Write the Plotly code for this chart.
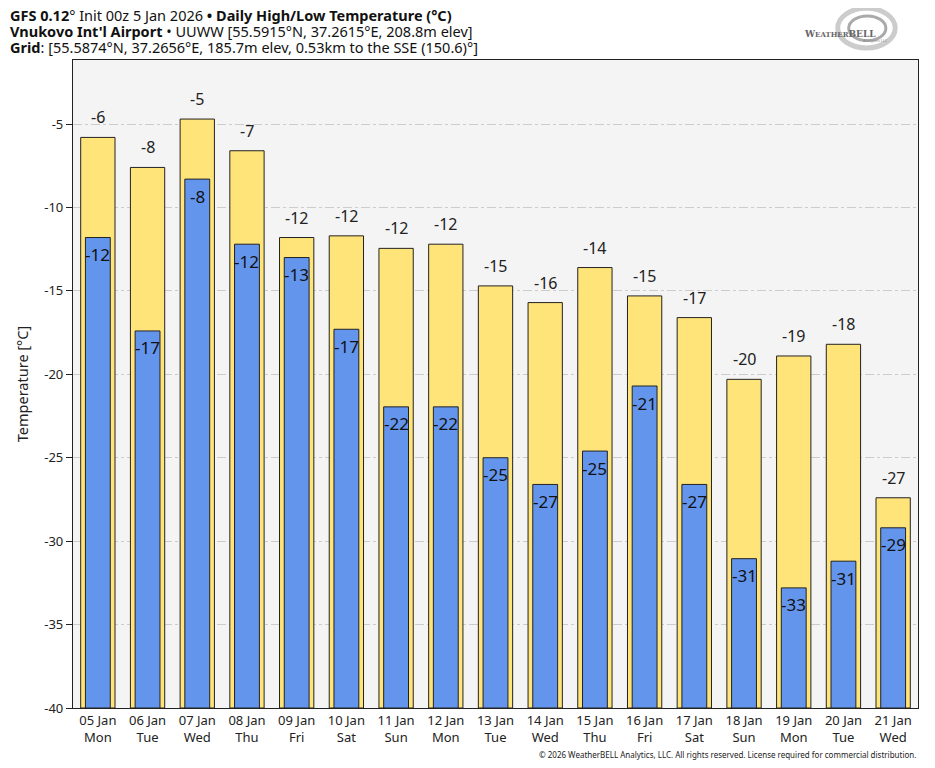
import plotly.graph_objects as go

dates = ["05 Jan", "06 Jan", "07 Jan", "08 Jan", "09 Jan", "10 Jan", "11 Jan", "12 Jan", "13 Jan",
         "14 Jan", "15 Jan", "16 Jan", "17 Jan", "18 Jan", "19 Jan", "20 Jan", "21 Jan"]
weekdays = ["Mon", "Tue", "Wed", "Thu", "Fri", "Sat", "Sun", "Mon", "Tue",
            "Wed", "Thu", "Fri", "Sat", "Sun", "Mon", "Tue", "Wed"]
highs = [-5.8, -7.6, -4.7, -6.6, -11.8, -11.7, -12.45, -12.2, -14.7,
         -15.7, -13.6, -15.3, -16.6, -20.3, -18.9, -18.2, -27.4]
lows = [-11.8, -17.4, -8.3, -12.2, -13.0, -17.3, -21.95, -21.95, -25.0,
        -26.6, -24.6, -20.7, -26.6, -31.05, -32.8, -31.2, -29.2]
high_labels = [-6, -8, -5, -7, -12, -12, -12, -12, -15, -16, -14, -15, -17, -20, -19, -18, -27]
low_labels = [-12, -17, -8, -12, -13, -17, -22, -22, -25, -27, -25, -21, -27, -31, -33, -31, -29]
y_ticks = [-5, -10, -15, -20, -25, -30, -35, -40]

BASE = -40
FONT = "Noto Sans"
cats = [f"{d}<br>{w}" for d, w in zip(dates, weekdays)]

fig = go.Figure()
fig.add_trace(go.Bar(
    x=cats, y=[h - BASE for h in highs], base=BASE, width=0.69,
    marker=dict(color="#FFE47A", line=dict(color="#222222", width=1)),
    hoverinfo="skip", showlegend=False))
fig.add_trace(go.Bar(
    x=cats, y=[l - BASE for l in lows], base=BASE, width=0.5,
    marker=dict(color="#6495ED", line=dict(color="#222222", width=1)),
    hoverinfo="skip", showlegend=False))

for c, h, hl in zip(cats, highs, high_labels):
    fig.add_annotation(x=c, y=h, text=str(hl), showarrow=False, yshift=20,
                       font=dict(family=FONT, size=16, color="#222"))
for c, l, ll in zip(cats, lows, low_labels):
    fig.add_annotation(x=c, y=l, text=str(ll), showarrow=False, yshift=-17,
                       font=dict(family=FONT, size=17, color="#111"))

title_lines = [
    "<b>GFS 0.12</b>° Init 00z 5 Jan 2026 <b>•</b> <b>Daily High/Low Temperature (°C)</b>",
    "<b>Vnukovo Int'l Airport</b> • UUWW [55.5915°N, 37.2615°E, 208.8m elev]",
    "<b>Grid</b>: [55.5874°N, 37.2656°E, 185.7m elev, 0.53km to the SSE (150.6)°]",
]
for txt, yy in zip(title_lines, [1.0694, 1.0448, 1.0201]):
    fig.add_annotation(xref="paper", yref="paper", x=-0.0769, y=yy, yanchor="middle",
                       xanchor="left", align="left", text=txt, showarrow=False,
                       font=dict(family=FONT, size=14.5, color="#111"))

fig.add_annotation(xref="paper", yref="paper", x=1.0, y=-0.0725, xanchor="right", yanchor="middle",
                   text="© 2026 WeatherBELL Analytics, LLC. All rights reserved. License required for commercial distribution.",
                   showarrow=False, font=dict(family=FONT, size=8, color="#222"))

# logo approximation
fig.add_shape(type="circle", xref="paper", yref="paper", x0=0.905, x1=0.973, y0=1.0185, y1=1.080,
              line=dict(color="#cccccc", width=5))
fig.add_shape(type="circle", xref="paper", yref="paper", x0=0.918, x1=0.962, y0=1.030, y1=1.068,
              line=dict(color="#aaaaaa", width=3))
fig.add_annotation(xref="paper", yref="paper", x=0.953, y=1.051,
                   text="<b>W<span style='font-size:7px'>EATHER</span>BELL</b>",
                   showarrow=False, font=dict(family="DejaVu Serif", size=9, color="#666"))
fig.add_annotation(xref="paper", yref="paper", x=0.967, y=1.037, text="Analytics LLC",
                   showarrow=False, font=dict(family=FONT, size=4, color="#888"))

fig.update_layout(
    width=927, height=760,
    margin=dict(l=65, r=17, t=52, b=60),
    barmode="overlay",
    paper_bgcolor="white", plot_bgcolor="#F4F4F4",
    font=dict(family=FONT, size=13, color="#222"),
    xaxis=dict(showgrid=False, showline=True, linecolor="#222", linewidth=1.2, mirror=True,
               ticks="", tickfont=dict(size=13), fixedrange=True),
    yaxis=dict(range=[-40, -1.16], tickvals=y_ticks, ticktext=[str(t) for t in y_ticks],
               showgrid=True, gridcolor="#CCCCCC", griddash="dashdot", gridwidth=1,
               showline=True, linecolor="#222", linewidth=1.2, mirror=True,
               ticks="outside", ticklen=6, tickcolor="#222", tickfont=dict(size=13),
               title=dict(text="Temperature [°C]", font=dict(size=14.5), standoff=12),
               zeroline=False),
)

fig.write_html("out.html")
